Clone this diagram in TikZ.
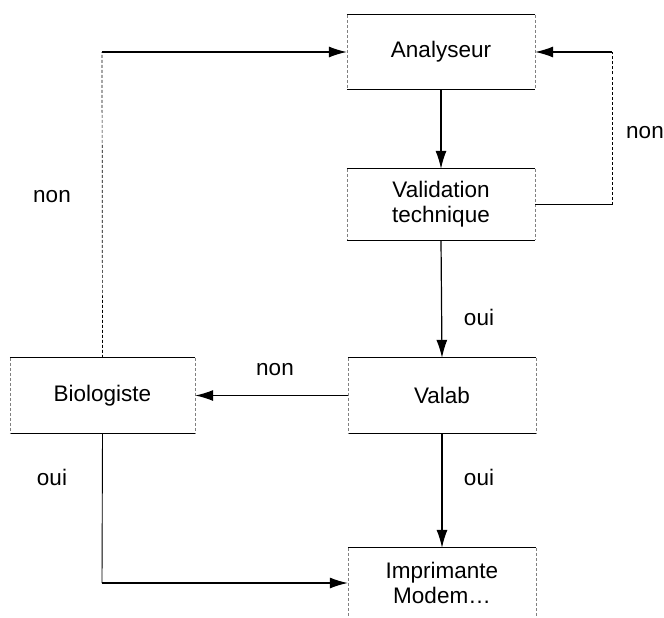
\documentclass[tikz,border=0pt]{standalone}
\usepackage{fontspec}
\setmainfont{Liberation Sans}
\usetikzlibrary{arrows.meta}
\begin{document}
\begin{tikzpicture}[x=1pt,y=-1pt,
  box/.style={minimum width=188pt,inner sep=0pt,align=center,font=\fontsize{22.5}{25}\selectfont},
  edge/.style={line width=1.2pt,-{Latex[length=18pt,width=11pt]}},
  plain/.style={line width=1.1pt},
  lbl/.style={font=\fontsize{22.5}{25}\selectfont}]
\useasboundingbox (0,0) rectangle (664,618);
\node[box,minimum height=74pt] (ana) at (441,52) {Analyseur};
\node[box,minimum height=71pt] (val) at (441,204.5) {Validation\\technique};
\node[box,minimum height=75pt] (valab) at (442,395.5) {Valab};
\node[box,minimum width=185pt,minimum height=75pt] (bio) at (102.5,395.5) {Biologiste};
\node[box,minimum height=70pt] (imp) at (442,583) {Imprimante\\Modem\ldots};
% box outlines: solid top/bottom, faint sides
\foreach \n in {ana,val,valab,bio}{
  \draw[line width=1pt] (\n.north west) -- (\n.north east);
  \draw[line width=1pt] (\n.south west) -- (\n.south east);
  \draw[line width=0.6pt,densely dashed,gray] (\n.north west) -- (\n.south west);
  \draw[line width=0.6pt,densely dashed,gray] (\n.north east) -- (\n.south east);
}
\draw[line width=1pt] (imp.north west) -- (imp.north east);
\draw[line width=0.6pt,densely dashed,gray] (imp.north west) -- (imp.south west);
\draw[line width=0.6pt,densely dashed,gray] (imp.north east) -- (imp.south east);
% connectors
\coordinate (r) at (612,0);
\draw[edge] (ana.south) -- (val.north);
\draw[plain] (val.east) -- (val.east -| r);
\draw[line width=0.7pt,densely dashed] (val.east -| r) -- (ana.east -| r);
\draw[edge] (ana.east -| r) -- (ana.east);
\node[lbl] (n1) at (645,133) {non};
\draw[edge] (val.south) -- (valab.north);
\node[lbl] (o1) at (479,317) {oui};
\draw[edge] (valab.west) -- (bio.east);
\node[lbl] (n2) at (275,370) {non};
\coordinate (bl) at (102,52);
\draw[line width=0.7pt,densely dashed] (bio.north) -- (bl);
\draw[edge] (bl) -- (ana.west);
\node[lbl] (n3) at (52,197) {non};
\coordinate (bb) at (102,583);
\draw[line width=0.9pt] (bio.south) -- (bb);
\draw[edge] (bb) -- (imp.west);
\node[lbl] (o2) at (52,477) {oui};
\draw[edge] (valab.south) -- (imp.north);
\node[lbl] (o3) at (479,477) {oui};
\end{tikzpicture}
\end{document}
